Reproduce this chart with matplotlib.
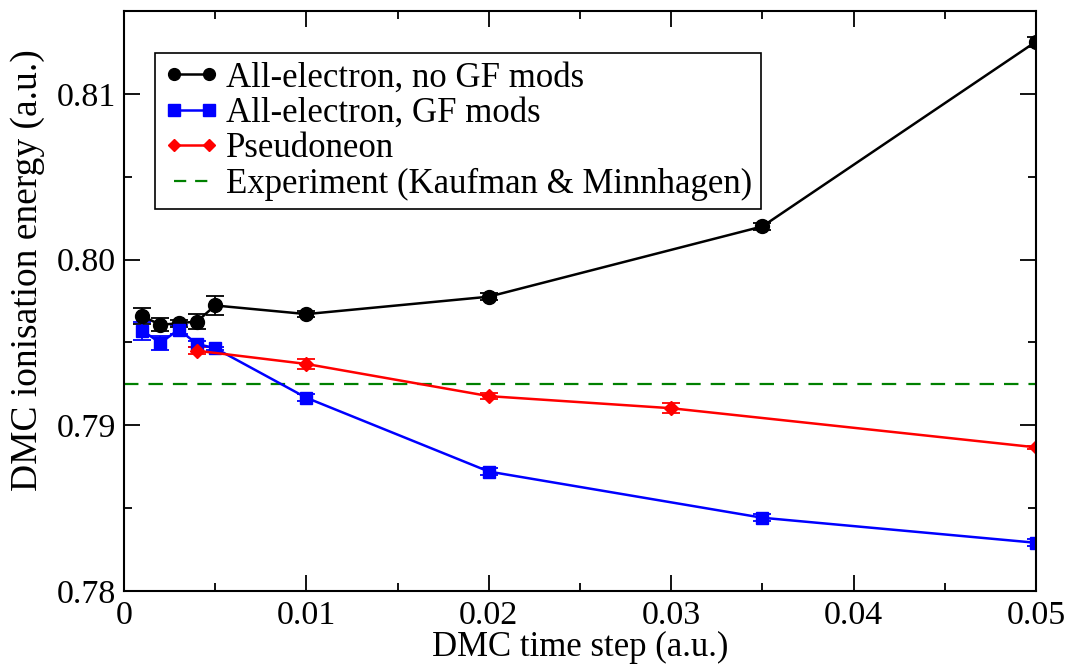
import matplotlib
matplotlib.use('Agg')
import matplotlib.pyplot as plt
from matplotlib.lines import Line2D
from matplotlib.ticker import MultipleLocator, FormatStrFormatter, FuncFormatter

plt.rcParams['font.family'] = ['Liberation Serif', 'DejaVu Serif']

# all-electron, no GF mods
tau_ae = [0.001, 0.002, 0.003, 0.004, 0.005, 0.01, 0.02, 0.035, 0.05]
ie_ae = [0.79659, 0.79606, 0.79616, 0.79626, 0.79723, 0.79671, 0.79776, 0.80200, 0.81315]
err_ae = [0.0005, 0.0004, 0.0002, 0.00045, 0.0006, 0.0002, 0.0002, 0.0002, 0.0003]

# all-electron, GF mods
tau_gf = [0.001, 0.002, 0.003, 0.004, 0.005, 0.01, 0.02, 0.035, 0.05]
ie_gf = [0.79571, 0.79497, 0.79578, 0.79491, 0.79465, 0.79166, 0.78721, 0.78442, 0.78291]
err_gf = [0.00055, 0.0004, 0.0003, 0.0002, 0.0001, 0.0002, 0.0002, 0.0002, 0.0002]

# pseudoneon
tau_ps = [0.004, 0.01, 0.02, 0.03, 0.05]
ie_ps = [0.79450, 0.79370, 0.79176, 0.79103, 0.78867]
err_ps = [0.0002, 0.0003, 0.0002, 0.0003, 0.0001]

ie_exp = 0.79248

labels = ['All-electron, no GF mods', 'All-electron, GF mods', 'Pseudoneon',
          'Experiment (Kaufman & Minnhagen)']

fig = plt.figure(figsize=(10.68, 6.66), dpi=100)
ax = fig.add_axes([0.1161, 0.1126, 0.8539, 0.8709])

eb = dict(lw=1.8, capsize=6.5, elinewidth=1.3, capthick=1.3)
ax.errorbar(tau_ae, ie_ae, yerr=err_ae, color='black', marker='o', markersize=10, **eb)
ax.errorbar(tau_gf, ie_gf, yerr=err_gf, color='blue', marker='s', markersize=8.5, **eb)
ax.errorbar(tau_ps, ie_ps, yerr=err_ps, color='red', marker='D', markersize=7, **eb)
ax.axhline(ie_exp, color='green', ls=(0, (6.5, 4.5)), lw=1.6)

ax.set_xlim(0, 0.05)
ax.set_ylim(0.78, 0.815)
ax.xaxis.set_major_locator(MultipleLocator(0.01))
ax.xaxis.set_minor_locator(MultipleLocator(0.005))
ax.yaxis.set_major_locator(MultipleLocator(0.01))
ax.yaxis.set_minor_locator(MultipleLocator(0.005))
ax.xaxis.set_major_formatter(FuncFormatter(lambda v, p: '%g' % round(v, 3)))
ax.yaxis.set_major_formatter(FormatStrFormatter('%.2f'))
ax.tick_params(which='both', direction='in', top=True, right=True, labelsize=24.5, width=1.3)
ax.tick_params(which='major', length=11.5)
ax.tick_params(which='minor', length=6)
ax.tick_params(axis='y', pad=6)
ax.tick_params(axis='x', pad=7)
for s in ax.spines.values():
    s.set_linewidth(1.5)

ax.set_xlabel('DMC time step (a.u.)', fontsize=25, labelpad=0)
ax.set_ylabel('DMC ionisation energy (a.u.)', fontsize=27)
ax.yaxis.set_label_coords(-0.087, 0.553)

# legend handles without the error bars
handles = [
    Line2D([], [], color='black', marker='o', markersize=8.5, lw=1.8),
    Line2D([], [], color='blue', marker='s', markersize=8, lw=1.8),
    Line2D([], [], color='red', marker='D', markersize=6.5, lw=1.8),
    Line2D([], [], color='green', ls=(0, (5.5, 4)), lw=1.6),
]
leg = ax.legend(handles, labels, loc='upper left', bbox_to_anchor=(0.034, 0.928),
                fontsize=25, numpoints=2, handlelength=1.6, handletextpad=0.2,
                labelspacing=0.07, borderpad=0.25, borderaxespad=0, fancybox=False,
                framealpha=1, edgecolor='black')
leg.get_frame().set_linewidth(1.2)

fig.savefig('out.png', dpi=100)
